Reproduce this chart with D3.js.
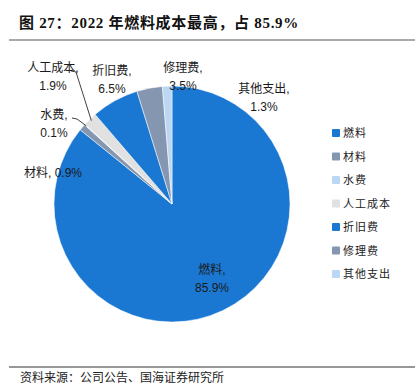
<!DOCTYPE html>
<html>
<head>
<meta charset="utf-8">
<script src="https://cdn.jsdelivr.net/npm/d3@7"></script>
<style>
  body { margin: 0; background: #fff; }
  svg { display: block; }
</style>
</head>
<body>
<div id="chart"></div>
<script>
// data (percent)
const categories = ["燃料", "材料", "水费", "人工成本", "折旧费", "修理费", "其他支出"];
const values = [85.9, 0.9, 0.1, 1.9, 6.5, 3.5, 1.3];
const colors = ["#1a78d3", "#8597b0", "#bcd7f3", "#e1e1e1", "#1a78d3", "#8597b0", "#bcd7f3"];

const width = 415, height = 390;
const cx = 172, cy = 204, radius = 118;

const labelFont = "'Liberation Sans', Arial, 'Noto Sans CJK SC', sans-serif";
const cjkFont = "'Noto Sans CJK SC', sans-serif";

const svg = d3.select("#chart").append("svg")
  .attr("width", width)
  .attr("height", height);

// title + rules
svg.append("text")
  .attr("x", 19).attr("y", 28)
  .attr("font-family", "'Liberation Serif', 'Noto Sans CJK SC', serif")
  .attr("font-weight", "bold")
  .attr("font-size", 15)
  .attr("letter-spacing", 0.7)
  .attr("fill", "#111")
  .text("图 27：2022 年燃料成本最高，占 85.9%");

svg.append("line")
  .attr("x1", 9).attr("x2", 415).attr("y1", 40).attr("y2", 40)
  .attr("stroke", "#555").attr("stroke-width", 1.2);

svg.append("line")
  .attr("x1", 9).attr("x2", 415).attr("y1", 367).attr("y2", 367)
  .attr("stroke", "#333").attr("stroke-width", 1.2);

svg.append("text")
  .attr("x", 20).attr("y", 382)
  .attr("font-family", cjkFont)
  .attr("font-size", 12)
  .attr("fill", "#222")
  .text("资料来源：公司公告、国海证券研究所");

// pie
const rows = categories.map((c, i) => ({ name: c, value: values[i], color: colors[i] }));
const pie = d3.pie().sort(null).value(d => d.value);
const arcs = pie(rows);
const arc = d3.arc().innerRadius(0).outerRadius(radius);

const g = svg.append("g").attr("transform", `translate(${cx},${cy})`);

g.selectAll("path")
  .data(arcs)
  .join("path")
  .attr("d", arc)
  .attr("fill", d => d.data.color)
  .attr("stroke", "#fff")
  .attr("stroke-width", 0.5);

// label layout: centre of each label relative to pie centre, one or two lines
const labelLayout = {
  "燃料":   { dx: 40,   dy: 75,   lines: 2 },
  "材料":   { dx: -119, dy: -31,  lines: 1 },
  "水费":   { dx: -118, dy: -80,  lines: 2, leader: true },
  "人工成本": { dx: -119, dy: -127, lines: 2, leader: true },
  "折旧费": { dx: -60,  dy: -124, lines: 2 },
  "修理费": { dx: 11,   dy: -127, lines: 2 },
  "其他支出": { dx: 92,  dy: -106, lines: 2 }
};

const lineH = 18;
arcs.forEach(d => {
  const lay = labelLayout[d.data.name];
  const t = g.append("text")
    .attr("text-anchor", "middle")
    .attr("font-family", labelFont)
    .attr("font-size", 12)
    .attr("fill", "#1a1a1a");
  if (lay.lines === 1) {
    t.append("tspan").attr("x", lay.dx).attr("y", lay.dy + 4)
      .text(d.data.name + ", " + d.data.value.toFixed(1) + "%");
  } else {
    t.append("tspan").attr("x", lay.dx).attr("y", lay.dy - lineH / 2 + 4)
      .text(d.data.name + ",");
    t.append("tspan").attr("x", lay.dx).attr("y", lay.dy + lineH / 2 + 4)
      .text(d.data.value.toFixed(1) + "%");
  }
  if (lay.leader) {
    const a = (d.startAngle + d.endAngle) / 2;
    const ex = Math.sin(a) * (radius - 2), ey = -Math.cos(a) * (radius - 2);
    const sx = lay.dx + 18, sy = lay.dy - 6;
    g.append("polyline")
      .attr("points", [[sx, sy], [sx + 5, sy + 1], [ex, ey]].map(p => p.join(",")).join(" "))
      .attr("fill", "none")
      .attr("stroke", "#111")
      .attr("stroke-width", 0.8);
  }
});

// legend
const legend = svg.append("g").attr("transform", "translate(332,133)");
const item = legend.selectAll("g")
  .data(rows)
  .join("g")
  .attr("transform", (d, i) => `translate(0,${i * 23.5})`);
item.append("rect")
  .attr("x", 0).attr("y", -4)
  .attr("width", 8).attr("height", 8)
  .attr("rx", 1)
  .attr("fill", d => d.color);
item.append("text")
  .attr("x", 11).attr("y", 4)
  .attr("font-family", cjkFont)
  .attr("font-size", 11)
  .attr("fill", "#222")
  .attr("letter-spacing", 1)
  .text(d => d.name);
</script>
</body>
</html>
